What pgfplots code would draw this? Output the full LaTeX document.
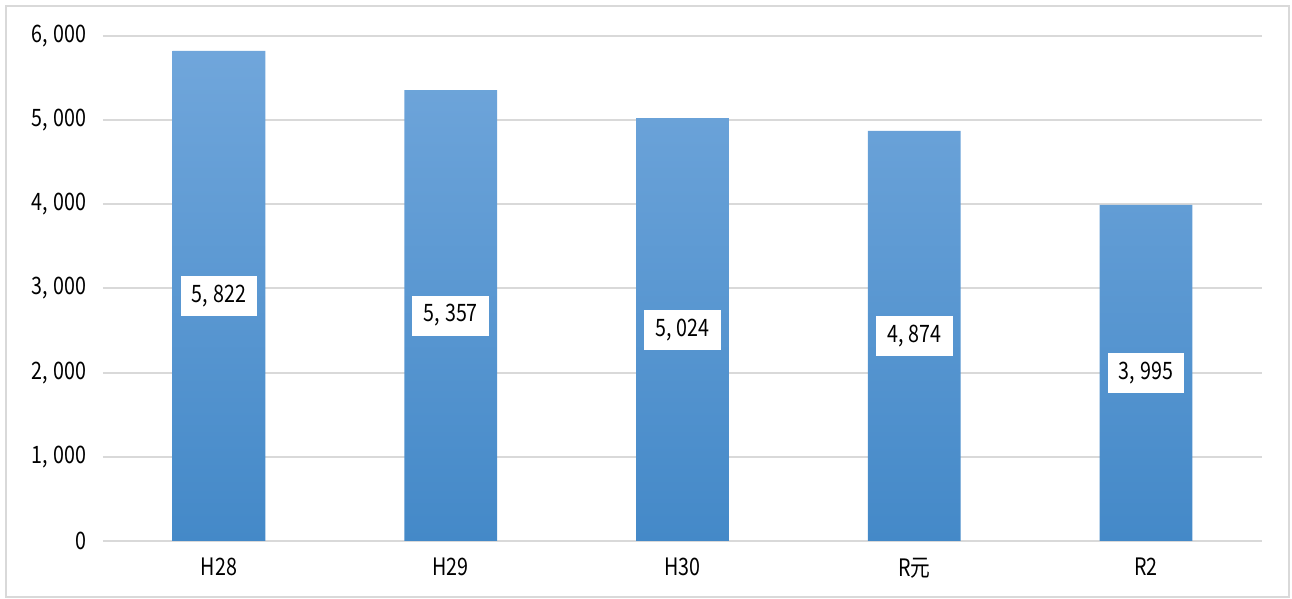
\documentclass[border=0pt]{standalone}
\usepackage{pgfplots}
\pgfplotsset{compat=1.18}
\usepackage{fontspec}
\setmainfont{Noto Sans CJK JP}[FakeStretch=0.82]
\definecolor{gridc}{HTML}{D9D9D9}
\definecolor{bartop}{HTML}{70A6DB}
\definecolor{barbot}{HTML}{4489C8}
\newcommand{\cm}{,\hspace{0.22em}}
\begin{document}
\begin{tikzpicture}[x=0.5pt,y=0.5pt]
\useasboundingbox (0,0) rectangle (1292,599);
\draw[color=gridc, line width=1pt] (6,2) rectangle (1289,593);
\begin{axis}[
  at={(103*0.5pt,58*0.5pt)}, anchor=south west,
  scale only axis,
  width=579.5pt, height=252.5pt,
  xmin=-0.5, xmax=4.5, ymin=0, ymax=6000,
  axis line style={draw=none},
  axis x line*=bottom,
  xtick={0,1,2,3,4},
  xticklabels={H28,H29,H30,R元,R2},
  ytick={0,1000,2000,3000,4000,5000,6000},
  yticklabels={0,1\cm000,2\cm000,3\cm000,4\cm000,5\cm000,6\cm000},
  major tick length=0pt,
  ymajorgrids,
  grid style={color=gridc, line width=1pt},
  tick label style={font=\fontsize{12}{13}\selectfont, text=black},
  yticklabel style={xshift=-5pt},
  xticklabel style={yshift=-5pt},
  clip=false,
]
\draw[color=gridc, line width=1pt] (axis cs:-0.5,0) -- (axis cs:4.5,0);
\addplot[ybar, bar width=0.4, bar shift=0, draw=none, top color=bartop, bottom color=barbot]
  coordinates {(0,5822) (1,5357) (2,5024) (3,4874) (4,3995)};
\addplot[draw=none, mark=none, nodes near coords, point meta=explicit symbolic,
  every node near coord/.style={anchor=center, fill=white, inner xsep=5.5pt, minimum height=20pt, font=\fontsize{12}{13}\selectfont, text=black}]
  coordinates {(0,2911) [5\cm822] (1,2678.5) [5\cm357] (2,2512) [5\cm024] (3,2437) [4\cm874] (4,1997.5) [3\cm995]};
\end{axis}
\end{tikzpicture}
\end{document}
